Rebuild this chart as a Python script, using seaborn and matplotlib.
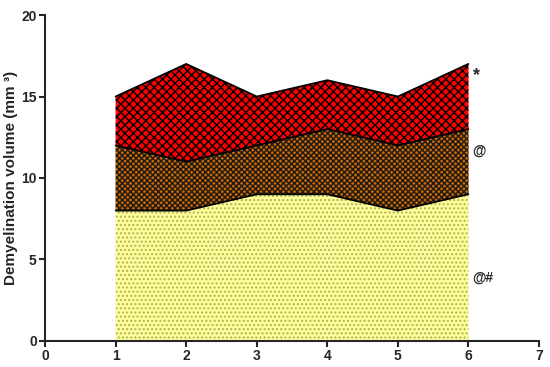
import numpy as np
import pandas as pd
import matplotlib
matplotlib.use('Agg')
import matplotlib.pyplot as plt
import seaborn as sns

# Data (stacked layers)
days = [1, 2, 3, 4, 5, 6]
layer_bottom = [8, 8, 9, 9, 8, 9]
layer_middle = [4, 3, 3, 4, 4, 4]
layer_top = [3, 6, 3, 3, 3, 4]
marks = ['*', '@', '@#']
mark_y = [16.3, 11.7, 3.9]
mark_size = [13, 10, 10]

sns.set_style('ticks')
plt.rcParams['font.family'] = ['Liberation Sans', 'DejaVu Sans']
plt.rcParams['font.weight'] = 'bold'
plt.rcParams['hatch.linewidth'] = 1.0

df = pd.DataFrame({'day': days, 'a': layer_bottom, 'b': layer_middle, 'c': layer_top})
df['s1'] = df['a']
df['s2'] = df['a'] + df['b']
df['s3'] = df['s2'] + df['c']

fig = plt.figure(figsize=(5.5, 3.67), dpi=100)
ax = fig.add_axes([0.082, 0.071, 0.898, 0.888])

ax.fill_between(df['day'], 0, df['s1'], facecolor='#ffff99', hatch='....',
                edgecolor='#b0b060', linewidth=0.01)
ax.fill_between(df['day'], df['s1'], df['s2'], facecolor='#cc6600', hatch='xxxxxx',
                edgecolor='#1a1a1a', linewidth=0.01)
ax.fill_between(df['day'], df['s2'], df['s3'], facecolor='#ff0000', hatch='xxxx',
                edgecolor='black', linewidth=0.01)

for col in ['s1', 's2', 's3']:
    sns.lineplot(data=df, x='day', y=col, ax=ax, color='black', linewidth=1.3)

for m, y, fs in zip(marks, mark_y, mark_size):
    ax.text(6.06, y, m, fontsize=fs, fontweight='bold', va='center', ha='left')

ax.set_xlim(0, 7)
ax.set_ylim(0, 20)
ax.set_xticks(range(0, 8))
ax.set_yticks([0, 5, 10, 15, 20])
ax.set_xlabel('')
ax.set_ylabel('Demyelination volume (mm \u00b3)', fontsize=11, fontweight='bold')
ax.yaxis.set_label_coords(-0.054, 0.5)
ax.tick_params(width=1.5, length=4, labelsize=10, pad=2)
for lab in ax.get_xticklabels() + ax.get_yticklabels():
    lab.set_fontweight('bold')
for s in ['left', 'bottom']:
    ax.spines[s].set_linewidth(1.5)
sns.despine(ax=ax)

fig.savefig('out.png', dpi=100)
